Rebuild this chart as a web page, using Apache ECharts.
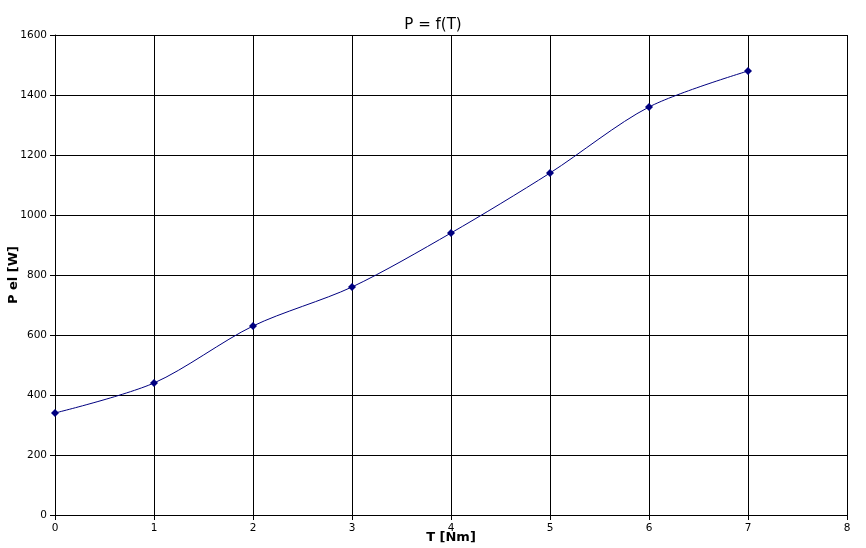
<!DOCTYPE html>
<html><head><meta charset="utf-8">
<script src="https://cdn.jsdelivr.net/npm/echarts@6/dist/echarts.min.js"></script>
<style>html,body{margin:0;padding:0;background:#fff}#c{width:866px;height:548px}</style>
</head><body><div id="c"></div>
<script>
const torque = [0, 1, 2, 3, 4, 5, 6, 7];
const power = [340, 440, 630, 760, 940, 1140, 1360, 1480];
const chart = echarts.init(document.getElementById('c'), null, {renderer: 'canvas'});
const font = 'DejaVu Sans';
chart.setOption({
  animation: false,
  backgroundColor: '#fff',
  title: {text: 'P = f(T)', left: 'center', top: 13, textStyle: {fontFamily: font, fontSize: 15, fontWeight: 'normal', color: '#000'}},
  grid: {left: 55, right: 19, top: 35, bottom: 33, containLabel: false, outerBoundsMode: 'none'},
  xAxis: {
    type: 'value', min: 0, max: 8, interval: 1,
    name: 'T [Nm]', nameLocation: 'middle', nameGap: 16, nameMoveOverlap: false,
    nameTextStyle: {fontFamily: font, fontSize: 13, fontWeight: 'bold', color: '#000'},
    axisLine: {show: true, lineStyle: {color: '#000', width: 1}},
    axisTick: {show: true, length: 5, lineStyle: {color: '#000'}},
    axisLabel: {fontFamily: font, fontSize: 10.5, color: '#000', margin: 8},
    splitLine: {show: true, lineStyle: {color: '#000', width: 1}}
  },
  yAxis: {
    type: 'value', min: 0, max: 1600, interval: 200,
    name: 'P el [W]', nameLocation: 'middle', nameGap: 35, nameRotate: 90, nameMoveOverlap: false,
    nameTextStyle: {fontFamily: font, fontSize: 13, fontWeight: 'bold', color: '#000'},
    axisLine: {show: true, lineStyle: {color: '#000', width: 1}},
    axisTick: {show: true, length: 5, lineStyle: {color: '#000'}},
    axisLabel: {fontFamily: font, fontSize: 10.5, color: '#000', margin: 8, formatter: v => String(v)},
    splitLine: {show: true, lineStyle: {color: '#000', width: 1}}
  },
  series: [{
    type: 'line', smooth: 0.3,
    data: torque.map((t, i) => [t, power[i]]),
    symbol: 'diamond', symbolSize: 8,
    lineStyle: {color: '#000080', width: 1},
    itemStyle: {color: '#000080'}
  }]
});
</script></body></html>
